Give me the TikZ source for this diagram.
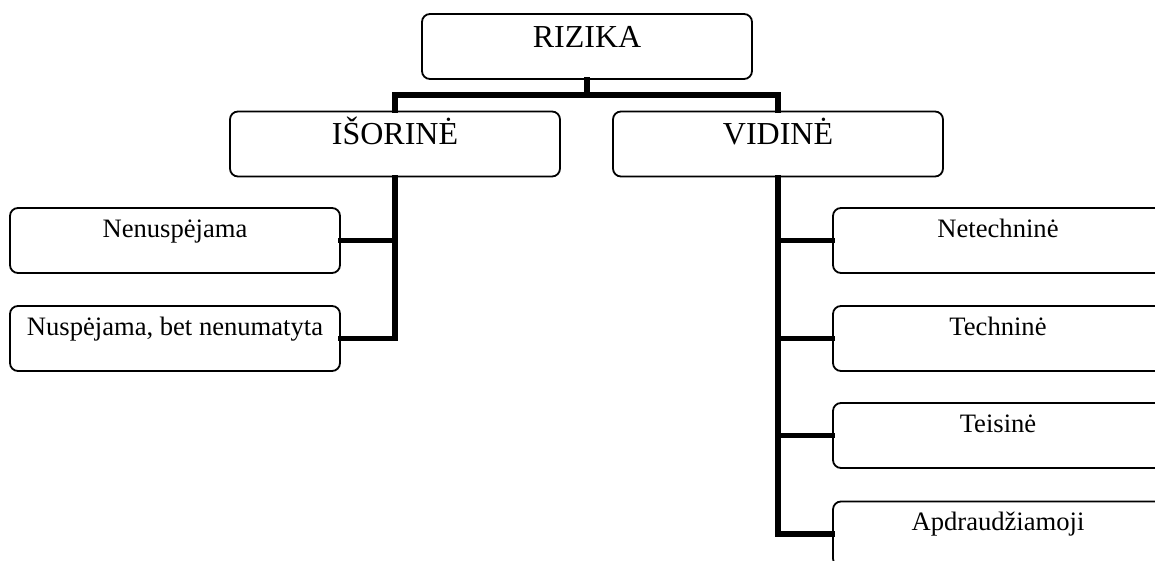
\documentclass[tikz,border=0pt]{standalone}
\usepackage{fontspec}
\setmainfont{Liberation Serif}
\tikzset{
    box/.style={draw, rectangle, rounded corners=4pt, line width=0.9pt, inner sep=0pt,
        minimum width=165pt, minimum height=32.5pt, align=center},
    bigbox/.style={box, font=\fontsize{16}{19}\selectfont, text height=16.75pt, text depth=15.75pt},
    smallbox/.style={box, font=\fontsize{13.3}{16}\selectfont, text height=14.5pt, text depth=18pt},
    conn/.style={line width=2.75pt, line join=miter, line cap=rect}
}
\begin{document}
\begin{tikzpicture}[x=0.5pt,y=-0.5pt]
    \useasboundingbox (0,0) rectangle (1155,561);
    \clip (0,0) rectangle (1155,561);
    %draw boxes
    \node[bigbox] (rizika) at (587,46.5) {RIZIKA};
    \node[bigbox] (isorine) at (395,144) {IŠORINĖ};
    \node[bigbox] (vidine) at (778,144) {VIDINĖ};
    \node[smallbox] (nenuspejama) at (175,240.5) {Nenuspėjama};
    \node[smallbox] (nuspejama) at (175,338.5) {Nuspėjama, bet nenumatyta};
    \node[smallbox] (netechnine) at (998,240.5) {Netechninė};
    \node[smallbox] (technine) at (998,338.5) {Techninė};
    \node[smallbox] (teisine) at (998,435.5) {Teisinė};
    \node[smallbox] (apdraudziamoji) at (998,534) {Apdraudžiamoji};
    %draw lines
    \coordinate (bar) at (587,95);
    \draw[conn] (rizika.south) -- (bar);
    \draw[conn] (isorine.north) |- (bar) -| (vidine.north);
    \draw[conn] (isorine.south) |- (nuspejama.east);
    \draw[conn] (isorine.south |- nenuspejama.east) -- (nenuspejama.east);
    \draw[conn] (vidine.south) |- (apdraudziamoji.west);
    \foreach \n in {netechnine,technine,teisine}
        {%
            \draw[conn] (vidine.south |- \n.west) -- (\n.west);
        }
\end{tikzpicture}
\end{document}
